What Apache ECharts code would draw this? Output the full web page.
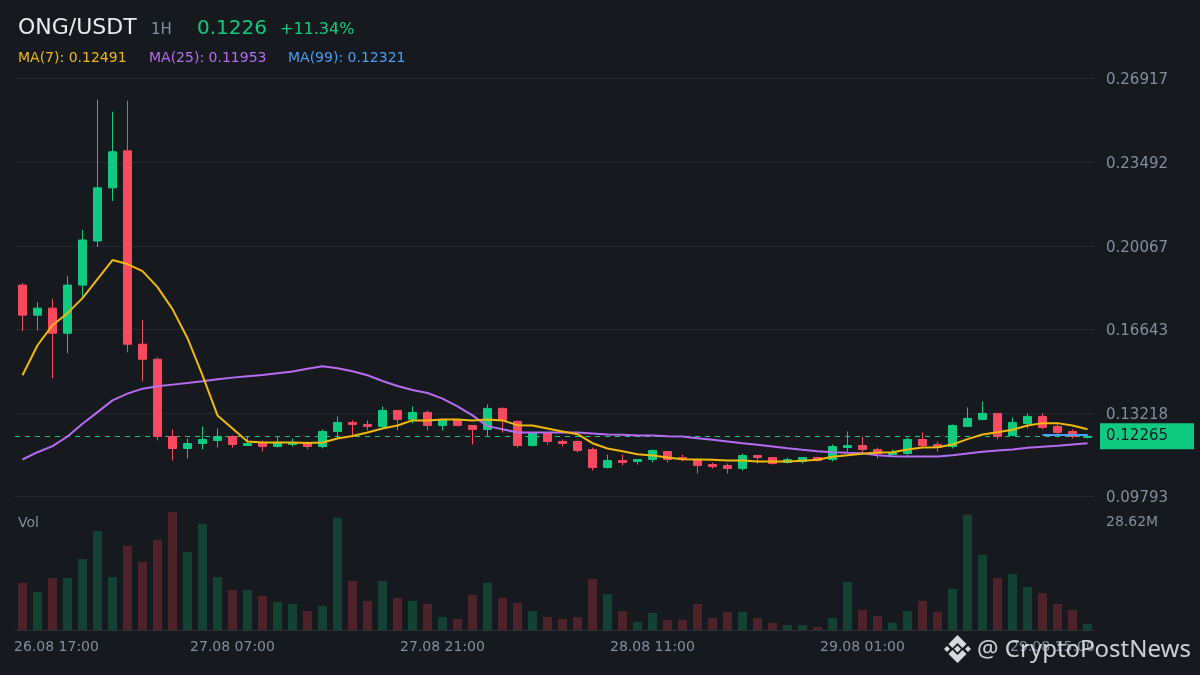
<!DOCTYPE html>
<html><head><meta charset="utf-8">
<style>html,body{margin:0;padding:0;background:#161a1f}#c{width:1200px;height:675px}</style>
<script src="https://cdn.jsdelivr.net/npm/echarts@6/dist/echarts.min.js"></script>
</head><body><div id="c"></div>
<script>
const categories = ["26.08 17:00","26.08 18:00","26.08 19:00","26.08 20:00","26.08 21:00","26.08 22:00","26.08 23:00",
"27.08 00:00","27.08 01:00","27.08 02:00","27.08 03:00","27.08 04:00","27.08 05:00","27.08 06:00","27.08 07:00","27.08 08:00","27.08 09:00","27.08 10:00","27.08 11:00","27.08 12:00","27.08 13:00","27.08 14:00","27.08 15:00","27.08 16:00","27.08 17:00","27.08 18:00","27.08 19:00","27.08 20:00","27.08 21:00","27.08 22:00","27.08 23:00",
"28.08 00:00","28.08 01:00","28.08 02:00","28.08 03:00","28.08 04:00","28.08 05:00","28.08 06:00","28.08 07:00","28.08 08:00","28.08 09:00","28.08 10:00","28.08 11:00","28.08 12:00","28.08 13:00","28.08 14:00","28.08 15:00","28.08 16:00","28.08 17:00","28.08 18:00","28.08 19:00","28.08 20:00","28.08 21:00","28.08 22:00","28.08 23:00",
"29.08 00:00","29.08 01:00","29.08 02:00","29.08 03:00","29.08 04:00","29.08 05:00","29.08 06:00","29.08 07:00","29.08 08:00","29.08 09:00","29.08 10:00","29.08 11:00","29.08 12:00","29.08 13:00","29.08 14:00","29.08 15:00","29.08 16:00"];
const opens = [.18457,.17226,.17513,.16486,.18457,.20264,.22441,.23960,.16035,.15419,.12256,.11764,.11969,.12092,.12256,.11887,.12010,.11846,.11928,.11969,.11846,.12462,.12831,.12749,.12667,.13324,.12955,.13242,.12708,.12955,.12708,.12544,.13406,.12873,.11887,.12380,.12051,.12051,.11723,.10983,.11271,.11230,.11312,.11640,.11394,.11312,.11106,.11065,.10942,.11476,.11394,.11189,.11230,.11394,.11312,.11805,.11887,.11723,.11517,.11558,.12133,.11928,.11846,.12667,.12955,.13201,.12298,.12790,.13078,.12667,.12462,.12215];
const closes = [.17226,.17513,.16486,.18457,.20305,.22441,.23919,.16035,.15419,.12256,.11764,.11969,.12133,.12256,.11928,.11969,.11846,.12010,.12010,.11846,.12462,.12831,.12749,.12667,.13324,.12955,.13242,.12708,.12955,.12708,.12544,.13406,.12914,.11887,.12380,.12051,.11969,.11681,.10983,.11271,.11189,.11312,.11681,.11312,.11312,.11065,.11024,.10942,.11476,.11394,.11148,.11312,.11394,.11271,.11846,.11887,.11723,.11558,.11599,.12133,.11887,.11805,.12708,.12996,.13201,.12256,.12831,.13078,.12626,.12421,.12256,.12265];
const lows = [.16569,.16610,.14638,.15665,.17924,.20018,.21907,.15706,.14515,.12092,.11271,.11353,.11723,.11805,.11805,.11887,.11640,.11805,.11846,.11723,.11764,.12174,.12215,.12503,.12585,.12503,.12790,.12503,.12503,.12667,.11928,.12256,.12421,.11805,.11846,.11928,.11846,.11599,.10860,.10942,.11065,.11106,.11189,.11189,.11230,.10737,.10942,.10737,.10860,.11148,.11106,.11148,.11148,.11230,.11230,.11599,.11599,.11353,.11517,.11476,.11805,.11640,.11764,.12667,.12914,.12133,.12256,.12585,.12544,.12298,.12174,.12174];
const highs = [.18540,.17759,.17883,.18827,.20716,.26055,.25562,.26014,.17020,.15501,.12544,.12174,.12667,.12585,.12298,.12256,.12092,.12256,.12174,.12051,.12544,.13078,.12914,.12914,.13489,.13324,.13489,.13324,.12955,.12955,.12708,.13571,.13448,.12914,.12421,.12421,.12133,.12092,.11805,.11517,.11517,.11312,.11723,.11640,.11517,.11353,.11189,.11148,.11558,.11517,.11394,.11394,.11394,.11394,.11928,.12462,.12256,.11805,.11723,.12215,.12421,.12051,.12749,.13448,.13694,.13201,.13037,.13201,.13201,.12749,.12544,.12339];
const ma7 = [.14762,.15994,.16815,.17308,.17924,.18704,.19484,.19320,.19032,.18375,.17472,.16281,.14762,.13119,.12585,.12051,.12010,.12010,.12010,.11990,.12010,.12174,.12277,.12421,.12585,.12708,.12914,.12914,.12955,.12955,.12914,.12955,.12914,.12721,.12708,.12585,.12462,.12351,.11981,.11764,.11653,.11530,.11476,.11394,.11325,.11312,.11300,.11271,.11271,.11230,.11230,.11230,.11259,.11300,.11423,.11489,.11546,.11599,.11612,.11723,.11805,.11817,.11928,.12146,.12339,.12433,.12532,.12708,.12803,.12803,.12708,.12556];
const ma25 = [.11312,.11612,.11858,.12256,.12778,.13255,.13735,.14010,.14215,.14310,.14380,.14445,.14515,.14597,.14667,.14721,.14774,.14844,.14914,.15029,.15131,.15049,.14926,.14762,.14528,.14322,.14158,.14035,.13805,.13489,.13119,.12680,.12556,.12421,.12421,.12421,.12421,.12421,.12380,.12339,.12326,.12298,.12298,.12269,.12256,.12187,.12121,.12051,.11981,.11916,.11846,.11776,.11711,.11653,.11612,.11587,.11571,.11489,.11448,.11435,.11435,.11435,.11489,.11558,.11628,.11681,.11723,.11793,.11834,.11875,.11928,.11981];
const ma99Tail = [.12315,.12318,.12320,.12321];
const volumes = [12.46,10.07,13.78,13.78,18.8,26.2,14.0,22.3,18.0,23.9,31.3,20.7,28.1,14.0,10.6,10.6,9.0,7.4,6.9,5.0,6.4,29.7,13.0,7.7,13.0,8.5,7.7,6.9,3.4,2.9,9.3,12.5,8.5,7.2,5.0,3.4,2.9,3.4,13.5,9.5,5.0,2.1,4.5,2.7,2.7,6.9,3.2,4.8,4.8,3.2,1.9,1.3,1.3,0.8,3.2,12.7,5.3,3.7,1.9,5.0,7.7,4.8,10.9,30.5,19.9,13.8,14.8,11.4,9.8,6.9,5.3,1.6];
const priceTicks = [.26917,.23492,.20067,.16643,.13218,.09793];
const volTicks = [28.62];
const lastPrice = .12265;

const FONT = '"DejaVu Sans", sans-serif';
const UP = '#0ecb81', DOWN = '#f84960', UPV = '#134232', DOWNV = '#4d2329', GRAY = '#848e9c';

const candles = categories.map((_, i) => [opens[i], closes[i], lows[i], highs[i]]);
const volData = volumes.map((v, i) => ({ value: v, itemStyle: { color: closes[i] >= opens[i] ? UPV : DOWNV } }));
const ma99 = categories.map((_, i) => { const k = i - (categories.length - ma99Tail.length); return k >= 0 ? ma99Tail[k] : null; });

const head = (text, left, top, size, color) => ({ text, left, top, textStyle: { color, fontSize: size, fontWeight: 'normal', fontFamily: FONT, lineHeight: size + 2 }, padding: 0 });
const maLine = (name, data, color, z) => ({ name, type: 'line', data, xAxisIndex: 0, yAxisIndex: 0, symbol: 'none', smooth: false, z, lineStyle: { color, width: 2 }, itemStyle: { color }, connectNulls: false, silent: true });

const chart = echarts.init(document.getElementById('c'), null, { width: 1200, height: 675 });
chart.setOption({
  animation: false,
  backgroundColor: '#161a1f',
  textStyle: { fontFamily: FONT },
  title: [
    head('ONG/USDT', 18, 16, 22, '#eaecef'),
    head('1H', 151, 22, 15, GRAY),
    head('0.1226', 197, 18, 20, UP),
    head('+11.34%', 280, 21, 16, UP),
    head('MA(7): 0.12491', 18, 50, 14, '#f0b90b'),
    head('MA(25): 0.11953', 149, 50, 14, '#b56cf0'),
    head('MA(99): 0.12321', 288, 50, 14, '#4a9ef5'),
    head('Vol', 18, 515, 14, GRAY)
  ],
  grid: [
    { left: 15, width: 1080, top: 78.6, height: 418 },
    { left: 15, width: 1080, top: 511, height: 119 }
  ],
  xAxis: [
    { type: 'category', gridIndex: 0, data: categories, boundaryGap: true, axisLine: { show: false }, axisTick: { show: false }, axisLabel: { show: false }, splitLine: { show: false } },
    { type: 'category', gridIndex: 1, data: categories, boundaryGap: true,
      axisLine: { show: true, lineStyle: { color: '#2b2f36', width: 1 } }, axisTick: { show: false }, splitLine: { show: false },
      axisLabel: { show: true, margin: 10, color: GRAY, fontSize: 14, fontFamily: FONT, hideOverlap: false,
        interval: (i) => i % 14 === 0,
        formatter: (v, i) => i === 0 ? '{first|' + v + '}' : (i === 70 ? '{last|' + v + '}' : v),
        rich: { first: { color: GRAY, fontSize: 14, fontFamily: FONT, padding: [0, 0, 0, 68] }, last: { color: GRAY, fontSize: 14, fontFamily: FONT, padding: [0, 40, 0, 0] } } } }
  ],
  yAxis: [
    { type: 'value', gridIndex: 0, position: 'right', min: priceTicks[5], max: priceTicks[0], scale: true,
      axisLine: { show: false }, axisTick: { show: false, customValues: priceTicks },
      splitLine: { show: true, lineStyle: { color: '#24282d', width: 1 } },
      axisLabel: { show: true, margin: 11, color: GRAY, fontSize: 15, fontFamily: FONT, customValues: priceTicks,
        formatter: (v) => '{p|' + v.toFixed(5) + '}', rich: { p: { color: GRAY, fontSize: 15, fontFamily: FONT, padding: [4, 0, 0, 0] } },
        showMinLabel: true, showMaxLabel: true, hideOverlap: false } },
    { type: 'value', gridIndex: 1, position: 'right', min: 0, max: 31.5,
      axisLine: { show: false }, axisTick: { show: false, customValues: volTicks }, splitLine: { show: false },
      axisLabel: { show: true, margin: 11, color: GRAY, fontSize: 14, fontFamily: FONT, customValues: volTicks, formatter: (v) => v.toFixed(2) + 'M' } }
  ],
  series: [
    { name: 'Last', type: 'line', xAxisIndex: 0, yAxisIndex: 0, data: [], z: 1, silent: true, symbol: 'none',
      markLine: { silent: true, symbol: 'none', z: 1, animation: false, precision: 5,
        lineStyle: { color: UP, type: [5, 5], width: 1 },
        label: { show: true, position: 'end', distance: 5, formatter: () => lastPrice.toFixed(5), color: '#181a20', backgroundColor: UP, fontSize: 15, fontFamily: FONT, lineHeight: 16, padding: [5, 26, 5, 6] },
        data: [{ yAxis: lastPrice }] } },
    { name: 'ONG/USDT', type: 'candlestick', xAxisIndex: 0, yAxisIndex: 0, data: candles, barWidth: 8, z: 2, silent: true,
      itemStyle: { color: UP, color0: DOWN, borderColor: UP, borderColor0: DOWN, borderWidth: 1 } },
    maLine('MA(99)', ma99, '#4a9ef5', 3),
    maLine('MA(25)', ma25, '#b56cf0', 4),
    maLine('MA(7)', ma7, '#f0b90b', 5),
    { name: 'Vol', type: 'bar', xAxisIndex: 1, yAxisIndex: 1, data: volData, barWidth: 9, silent: true }
  ],
  graphic: [
    { type: 'group', left: 944, top: 635, silent: true, z: 100, children: [
      { type: 'polygon', shape: { points: [[14,0],[23,9],[19,13],[14,8],[9,13],[5,9]] }, style: { fill: '#d8d9da' } },
      { type: 'polygon', shape: { points: [[14,28],[23,19],[19,15],[14,20],[9,15],[5,19]] }, style: { fill: '#d8d9da' } },
      { type: 'polygon', shape: { points: [[14,10.5],[17.5,14],[14,17.5],[10.5,14]] }, style: { fill: '#d8d9da' } },
      { type: 'polygon', shape: { points: [[3.5,11],[6.5,14],[3.5,17],[0.5,14]] }, style: { fill: '#d8d9da' } },
      { type: 'polygon', shape: { points: [[24.5,11],[27.5,14],[24.5,17],[21.5,14]] }, style: { fill: '#d8d9da' } }
    ] },
    { type: 'text', left: 977, top: 638, silent: true, z: 100, style: { text: '@ CryptoPostNews', fill: 'rgba(225,226,228,0.9)', fontSize: 24, fontFamily: '"Noto Sans", sans-serif' } }
  ]
});
</script></body></html>
